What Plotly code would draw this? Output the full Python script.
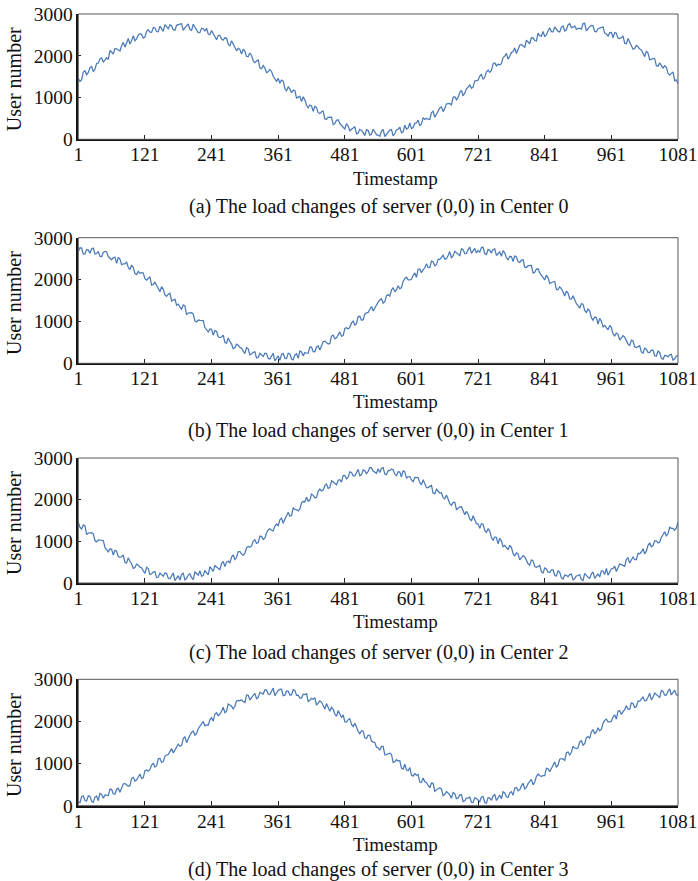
import plotly.graph_objects as go

TIMESTAMPS = list(range(1, 1082, 3))
X_TICKS = [1, 121, 241, 361, 481, 601, 721, 841, 961, 1081]
Y_TICKS = [0, 1000, 2000, 3000]

CENTER_0 = [
    1460, 1384, 1427, 1610, 1639, 1547, 1600, 1713, 1741, 1623, 1676, 1818, 1826, 1927, 1949, 1850, 1896, 1951, 1911, 2125,
    2090, 2038, 2177, 2169, 2137, 2114, 2241, 2321, 2206, 2310, 2415, 2283, 2361, 2478, 2360, 2405, 2501, 2530, 2514, 2421,
    2448, 2584, 2625, 2564, 2559, 2677, 2665, 2581, 2572, 2711, 2661, 2584, 2747, 2698, 2644, 2738, 2718, 2625, 2613, 2729, 2735,
    2759, 2768, 2610, 2668, 2718, 2764, 2628, 2607, 2754, 2671, 2621, 2552, 2556, 2660, 2647, 2594, 2659, 2520, 2504, 2603,
    2526, 2424, 2385, 2486, 2490, 2400, 2373, 2431, 2423, 2270, 2240, 2361, 2286, 2196, 2119, 2182, 2149, 2042, 2158, 2110,
    1985, 1981, 2066, 2006, 1880, 1834, 1867, 1906, 1708, 1691, 1768, 1706, 1598, 1615, 1672, 1624, 1510, 1452, 1389, 1460,
    1341, 1418, 1395, 1216, 1163, 1255, 1207, 1114, 1177, 1169, 987, 1009, 1028, 901, 1020, 949, 814, 754, 820, 800,
    672, 793, 761, 638, 616, 659, 674, 489, 480, 525, 522, 529, 352, 375, 455, 469, 380, 321, 289, 247,
    376, 320, 201, 241, 263, 300, 129, 148, 239, 214, 161, 88, 232, 211, 102, 127, 240, 157, 111, 95,
    71, 197, 235, 67, 112, 176, 222, 233, 81, 139, 229, 238, 294, 155, 178, 336, 246, 270, 391, 257,
    279, 386, 390, 459, 320, 365, 517, 474, 502, 480, 475, 634, 674, 529, 611, 693, 751, 773, 662, 740,
    850, 854, 859, 824, 1005, 1021, 948, 1004, 1122, 1169, 1042, 1104, 1207, 1250, 1303, 1221, 1250, 1398, 1416, 1415,
    1514, 1552, 1435, 1484, 1617, 1655, 1603, 1646, 1808, 1831, 1758, 1801, 1777, 1819, 1955, 1991, 2056, 1916, 1990, 2080,
    2103, 2187, 2054, 2142, 2254, 2271, 2231, 2201, 2375, 2335, 2288, 2431, 2428, 2365, 2355, 2541, 2480, 2469, 2581, 2463,
    2499, 2600, 2669, 2579, 2572, 2690, 2646, 2582, 2571, 2686, 2714, 2592, 2623, 2739, 2773, 2673, 2685, 2713, 2634, 2655,
    2654, 2638, 2770, 2778, 2598, 2664, 2698, 2727, 2719, 2581, 2576, 2647, 2661, 2685, 2692, 2544, 2519, 2470, 2554, 2558,
    2431, 2554, 2540, 2421, 2410, 2430, 2478, 2301, 2288, 2415, 2330, 2266, 2156, 2171, 2249, 2217, 2159, 2137, 2048, 1980,
    2110, 2066, 1906, 1911, 1935, 1929, 1762, 1751, 1828, 1756, 1703, 1761, 1723, 1580, 1537, 1579, 1615, 1402, 1424, 1330,
]

CENTER_1 = [
    2670, 2759, 2753, 2610, 2613, 2718, 2704, 2628, 2737, 2754, 2611, 2621, 2672, 2556, 2545, 2647, 2674, 2659, 2550, 2504,
    2473, 2526, 2534, 2385, 2531, 2490, 2355, 2373, 2376, 2423, 2290, 2240, 2346, 2286, 2141, 2119, 2197, 2149, 2167, 2158,
    2020, 1985, 2016, 2066, 1866, 1880, 1939, 1867, 1796, 1708, 1831, 1768, 1636, 1598, 1650, 1672, 1489, 1510, 1532, 1389, 1415,
    1341, 1293, 1395, 1371, 1163, 1200, 1207, 1209, 1177, 1014, 987, 1034, 1028, 1031, 1020, 854, 814, 749, 820, 810,
    672, 783, 761, 633, 616, 629, 674, 494, 480, 605, 522, 459, 352, 370, 455, 429, 380, 366, 289, 232,
    376, 345, 201, 221, 263, 275, 129, 138, 239, 189, 161, 243, 232, 116, 102, 172, 240, 57, 111, 175,
    71, 212, 235, 122, 112, 236, 222, 103, 81, 199, 229, 118, 294, 270, 178, 256, 246, 240, 391, 387,
    279, 276, 390, 414, 320, 410, 517, 529, 502, 460, 475, 649, 674, 584, 611, 678, 751, 648, 662, 830,
    850, 819, 859, 964, 1005, 916, 948, 1114, 1122, 1029, 1042, 1174, 1207, 1215, 1303, 1356, 1250, 1318, 1416, 1460,
    1514, 1542, 1435, 1474, 1617, 1640, 1603, 1751, 1808, 1706, 1758, 1851, 1777, 1809, 1955, 2026, 2056, 1991, 1990, 2005,
    2103, 2157, 2054, 2247, 2254, 2166, 2231, 2281, 2375, 2290, 2288, 2441, 2428, 2330, 2355, 2481, 2480, 2544, 2581, 2488,
    2499, 2575, 2669, 2514, 2572, 2675, 2646, 2617, 2571, 2736, 2714, 2622, 2623, 2714, 2773, 2628, 2685, 2743, 2634, 2695,
    2654, 2763, 2770, 2623, 2598, 2719, 2698, 2632, 2719, 2736, 2576, 2622, 2661, 2555, 2692, 2639, 2519, 2475, 2554, 2548,
    2431, 2564, 2540, 2426, 2410, 2460, 2478, 2296, 2288, 2335, 2330, 2336, 2156, 2176, 2249, 2257, 2159, 2092, 2048, 1995,
    2110, 2041, 1906, 1931, 1935, 1954, 1762, 1761, 1828, 1781, 1703, 1606, 1723, 1675, 1537, 1534, 1615, 1502, 1424, 1375,
    1316, 1423, 1410, 1261, 1213, 1300, 1247, 1089, 1027, 1104, 1092, 939, 1073, 1006, 870, 904, 849, 799, 905, 855,
    702, 653, 721, 698, 556, 599, 659, 624, 550, 460, 427, 554, 532, 395, 375, 394, 420, 271, 239, 362,
    336, 260, 256, 316, 313, 180, 169, 293, 259, 124, 96, 188, 182, 151, 202, 217, 75, 107, 171, 180,
]

CENTER_2 = [
    1460, 1341, 1293, 1395, 1371, 1163, 1200, 1207, 1209, 1177, 1014, 987, 1034, 1028, 1031, 1020, 854, 814, 749, 820,
    810, 672, 783, 761, 633, 616, 629, 674, 494, 480, 605, 522, 459, 352, 370, 455, 429, 380, 366, 289,
    232, 376, 345, 201, 221, 263, 275, 129, 138, 239, 189, 161, 243, 232, 116, 102, 172, 240, 57, 111, 175,
    71, 207, 235, 77, 112, 191, 222, 128, 81, 264, 229, 188, 294, 165, 178, 301, 246, 195, 391, 332,
    279, 416, 390, 354, 320, 470, 517, 394, 502, 525, 475, 624, 674, 564, 611, 753, 751, 698, 662, 715,
    850, 879, 859, 889, 1005, 1036, 948, 969, 1122, 1119, 1042, 1074, 1207, 1275, 1303, 1266, 1250, 1368, 1416, 1375,
    1514, 1557, 1435, 1529, 1617, 1700, 1603, 1621, 1808, 1766, 1758, 1731, 1777, 1924, 1955, 1946, 2056, 1961, 1990, 2135,
    2103, 2047, 2054, 2202, 2254, 2211, 2231, 2336, 2375, 2270, 2288, 2456, 2428, 2385, 2355, 2466, 2480, 2419, 2581, 2578,
    2499, 2540, 2669, 2654, 2572, 2570, 2646, 2727, 2571, 2596, 2714, 2692, 2623, 2679, 2773, 2763, 2685, 2663, 2634, 2740,
    2654, 2753, 2770, 2613, 2598, 2704, 2698, 2737, 2719, 2611, 2576, 2672, 2661, 2545, 2692, 2674, 2519, 2550, 2554, 2473,
    2431, 2534, 2540, 2531, 2410, 2355, 2478, 2376, 2288, 2290, 2330, 2346, 2156, 2141, 2249, 2197, 2159, 2167, 2048, 2020,
    2110, 2016, 1906, 1866, 1935, 1939, 1762, 1796, 1828, 1831, 1703, 1636, 1723, 1650, 1537, 1489, 1615, 1532, 1424, 1415,
    1316, 1423, 1410, 1261, 1213, 1300, 1247, 1089, 1027, 1104, 1092, 939, 1073, 1006, 870, 904, 849, 799, 905, 855,
    702, 653, 721, 698, 556, 599, 659, 624, 550, 460, 427, 554, 532, 395, 375, 394, 420, 271, 239, 362,
    336, 260, 256, 316, 313, 180, 169, 293, 259, 124, 96, 188, 182, 151, 202, 217, 75, 107, 171, 180,
    201, 82, 60, 232, 182, 136, 112, 223, 266, 109, 169, 213, 144, 295, 283, 206, 351, 190, 256, 342,
    344, 406, 275, 349, 460, 440, 427, 399, 567, 605, 480, 554, 624, 559, 561, 713, 701, 743, 822, 700,
    765, 904, 964, 869, 900, 1011, 1013, 959, 982, 1094, 1172, 1229, 1132, 1180, 1338, 1311, 1310, 1268, 1321, 1455,
]

CENTER_3 = [
    90, 71, 212, 235, 122, 112, 236, 222, 103, 81, 199, 229, 118, 294, 270, 178, 256, 246, 240, 391,
    387, 279, 276, 390, 414, 320, 410, 517, 529, 502, 460, 475, 649, 674, 584, 611, 678, 751, 648, 662,
    830, 850, 819, 859, 964, 1005, 916, 948, 1114, 1122, 1029, 1042, 1174, 1207, 1215, 1303, 1356, 1250, 1318, 1416, 1460,
    1409, 1427, 1595, 1639, 1497, 1600, 1673, 1741, 1773, 1676, 1713, 1826, 1882, 1949, 2000, 1896, 1916, 1911, 2040, 2090,
    2008, 2177, 2209, 2137, 2174, 2241, 2336, 2206, 2240, 2415, 2378, 2361, 2298, 2360, 2485, 2501, 2490, 2514, 2471, 2448,
    2624, 2625, 2509, 2559, 2627, 2665, 2541, 2572, 2691, 2661, 2649, 2747, 2748, 2644, 2638, 2718, 2790, 2613, 2669, 2735,
    2759, 2763, 2610, 2623, 2718, 2719, 2628, 2632, 2754, 2736, 2621, 2622, 2556, 2555, 2647, 2639, 2659, 2475, 2504, 2548,
    2526, 2564, 2385, 2426, 2490, 2460, 2373, 2296, 2423, 2335, 2240, 2336, 2286, 2176, 2119, 2257, 2149, 2092, 2158, 1995,
    1985, 2041, 2066, 1931, 1880, 1954, 1867, 1761, 1708, 1781, 1768, 1606, 1598, 1675, 1672, 1534, 1510, 1502, 1389, 1375,
    1316, 1408, 1410, 1206, 1213, 1240, 1247, 1219, 1027, 1044, 1092, 1059, 1073, 891, 870, 984, 849, 829, 905, 725,
    702, 763, 721, 743, 556, 554, 659, 569, 550, 480, 427, 539, 532, 340, 375, 409, 420, 396, 239, 272,
    336, 295, 256, 176, 313, 285, 169, 183, 259, 264, 96, 118, 182, 186, 202, 82, 75, 187, 171, 135,
    96, 207, 220, 77, 62, 191, 182, 128, 231, 264, 124, 188, 249, 165, 328, 301, 211, 195, 306, 332,
    249, 416, 430, 354, 380, 470, 532, 394, 432, 525, 570, 624, 494, 564, 691, 753, 711, 698, 712, 715,
    890, 879, 804, 889, 955, 1036, 908, 969, 1102, 1119, 1107, 1074, 1257, 1275, 1203, 1266, 1415, 1368, 1356, 1375,
    1514, 1542, 1435, 1474, 1617, 1640, 1603, 1751, 1808, 1706, 1758, 1851, 1777, 1809, 1955, 2026, 2056, 1991, 1990, 2005,
    2103, 2157, 2054, 2247, 2254, 2166, 2231, 2281, 2375, 2290, 2288, 2441, 2428, 2330, 2355, 2481, 2480, 2544, 2581, 2488,
    2499, 2575, 2669, 2514, 2572, 2675, 2646, 2617, 2571, 2736, 2714, 2622, 2623, 2714, 2773, 2628, 2685, 2743, 2634, 2620,
]

SERIES = [CENTER_0, CENTER_1, CENTER_2, CENTER_3]
for s in SERIES:
    assert len(s) == len(TIMESTAMPS), (len(s), len(TIMESTAMPS))

CAPTIONS = [
    "(a) The load changes of server (0,0) in Center 0",
    "(b) The load changes of server (0,0) in Center 1",
    "(c) The load changes of server (0,0) in Center 2",
    "(d) The load changes of server (0,0) in Center 3",
]
X_TITLE = "Timestamp"
Y_TITLE = "User number"

W, H = 698, 881
FONT = "Liberation Serif"
LINE_COLOR = "#4a7ab8"

# pixel geometry: (top, bottom, timestamp_y, caption_y)
PANELS = [
    (14, 139.3, 178, 207),
    (237.7, 363.3, 401, 431),
    (458, 583, 621, 652),
    (679.3, 805.7, 844, 869),
]
X_LEFT, X_RIGHT = 78.3, 678

fig = go.Figure()
annotations = []
shapes = []
for i, (vals, cap, (top, bot, ty, cy)) in enumerate(zip(SERIES, CAPTIONS, PANELS)):
    n = i + 1
    xa = "x" if n == 1 else f"x{n}"
    ya = "y" if n == 1 else f"y{n}"
    fig.add_trace(go.Scatter(
        x=TIMESTAMPS, y=vals, mode="lines",
        line=dict(color=LINE_COLOR, width=1.25),
        xaxis=xa, yaxis=ya, showlegend=False, hoverinfo="skip",
    ))
    xkey = "xaxis" if n == 1 else f"xaxis{n}"
    ykey = "yaxis" if n == 1 else f"yaxis{n}"
    fig.layout[xkey] = dict(
        domain=[X_LEFT / W, X_RIGHT / W], anchor=ya, range=[1, 1081],
        tickvals=X_TICKS, ticktext=[str(v) for v in X_TICKS],
        ticks="inside", ticklen=5, tickwidth=1, tickcolor="#222",
        showline=True, linecolor="#111", linewidth=1.5,
        showgrid=False, zeroline=False, automargin=False,
        ticklabeloverflow="allow", ticklabelstandoff=-3,
        tickfont=dict(family=FONT, size=19.5, color="#111"),
    )
    fig.layout[ykey] = dict(
        domain=[1 - bot / H, 1 - top / H], anchor=xa, range=[0, 3000],
        tickvals=Y_TICKS, ticks="inside", ticklen=3, tickwidth=1, tickcolor="#222",
        showline=True, linecolor="#111", linewidth=1.5,
        showgrid=False, zeroline=False, automargin=False,
        ticklabeloverflow="allow",
        tickfont=dict(family=FONT, size=19.5, color="#111"),
    )
    shapes.append(dict(
        type="rect", xref=f"{xa} domain", yref=f"{ya} domain",
        x0=0, x1=1, y0=0, y1=1, line=dict(color="#555", width=1), layer="above",
    ))
    annotations.append(dict(
        text=X_TITLE, x=395 / W, y=1 - ty / H,
        xref="paper", yref="paper", showarrow=False, xanchor="center", yanchor="middle",
        font=dict(family=FONT, size=19, color="#111"),
    ))
    annotations.append(dict(
        text=cap, x=378.5 / W, y=1 - cy / H,
        xref="paper", yref="paper", showarrow=False, xanchor="center", yanchor="middle",
        font=dict(family=FONT, size=20, color="#111"),
    ))
    annotations.append(dict(
        text=Y_TITLE, x=13.5 / W, y=1 - ((top + bot) / 2 + 3) / H, textangle=-90,
        xref="paper", yref="paper", showarrow=False, xanchor="center", yanchor="middle",
        font=dict(family=FONT, size=20, color="#111"),
    ))

fig.update_layout(
    width=W, height=H, margin=dict(l=0, r=0, t=0, b=0),
    paper_bgcolor="white", plot_bgcolor="white",
    annotations=annotations, shapes=shapes,
)

fig.write_html("out.html")
